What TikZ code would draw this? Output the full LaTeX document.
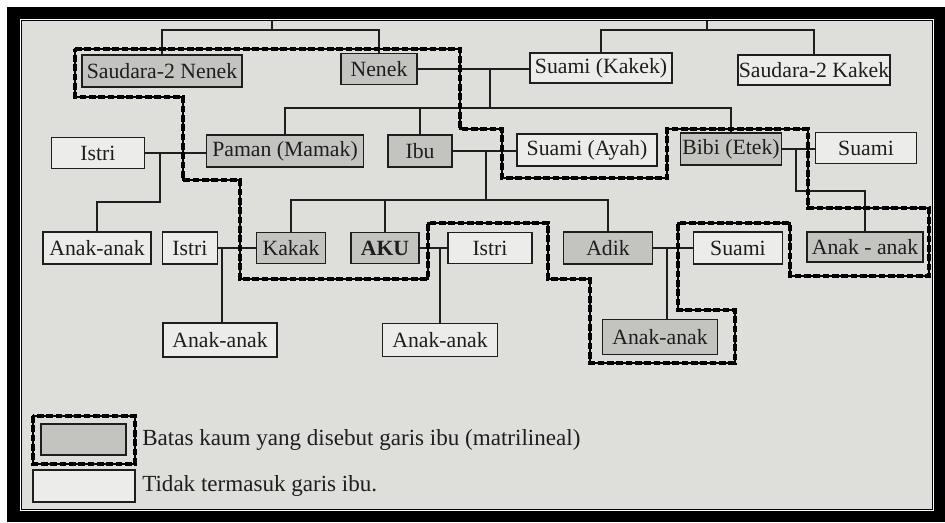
\documentclass[tikz,border=0pt]{standalone}
\usepackage{fontspec}
\setmainfont{Liberation Serif}

\definecolor{halaman}{HTML}{DEDFDB}
\definecolor{abu}{HTML}{C3C4C0}
\definecolor{putih}{HTML}{ECEDEA}
\definecolor{tinta}{HTML}{1E1E1E}

\tikzset{
  kotak/.style={draw=tinta, line width=1.3pt, inner sep=0pt, text=tinta,
    font=\fontsize{16.3}{18}\selectfont},
  ukuran/.style 2 args={minimum width=#1*0.75pt, minimum height=#2*0.75pt},
  ibukotak/.style={kotak, fill=abu},
  luarkotak/.style={kotak, fill=putih},
  keterangan/.style={text=tinta, inner sep=0pt, anchor=west,
    font=\fontsize{17.3}{19}\selectfont},
  garis/.style={draw=tinta, line width=1pt},
  batas/.style={draw=black, line width=3pt, dash pattern=on 5pt off 2pt,
    preaction={draw=black, solid, line width=1.1pt}},
}

\begin{document}
\begin{tikzpicture}[x=0.75pt, y=-0.75pt]
  \useasboundingbox (0,0) rectangle (945,522);

  % Drawing frame and page
  \fill[white] (0,0) rectangle (945,522);
  \fill[black] (7,7) rectangle (945,522);
  \draw[white, line width=1.2pt] (20.5,19.5) rectangle (933.5,510.5);
  \fill[halaman] (22,21) rectangle (932,509);

  % Drawing row of grandparents
  \node[ibukotak, ukuran={160}{32}] (sdrnenek) at (162,71) {Saudara-2 Nenek};
  \node[ibukotak, ukuran={76}{31}] (nenek) at (379,69) {Nenek};
  \node[luarkotak, ukuran={142}{30}] (kakek) at (601,68) {Suami (Kakek)};
  \node[luarkotak, ukuran={152}{30}] (sdrkakek) at (814,70) {Saudara-2 Kakek};

  % Drawing row of parents
  \node[luarkotak, ukuran={93}{31}] (istripaman) at (98,153) {Istri};
  \node[ibukotak, ukuran={157}{32}] (paman) at (285,151) {Paman (Mamak)};
  \node[ibukotak, ukuran={64}{32}] (ibu) at (420,151) {Ibu};
  \node[luarkotak, ukuran={140}{32}] (ayah) at (587,150) {Suami (Ayah)};
  \node[ibukotak, ukuran={101}{32}] (bibi) at (731,149) {Bibi (Etek)};
  \node[luarkotak, ukuran={101}{31}] (suamibibi) at (866,148) {Suami};

  % Drawing row of AKU
  \node[luarkotak, ukuran={108}{32}] (anakpaman) at (97,248) {Anak-anak};
  \node[luarkotak, ukuran={55}{32}] (istrikakak) at (190,248) {Istri};
  \node[ibukotak, ukuran={69}{31}] (kakak) at (291,248) {Kakak};
  \node[ibukotak, ukuran={68}{31}] (aku) at (385,248) {\bfseries AKU};
  \node[luarkotak, ukuran={84}{31}] (istriaku) at (490,248) {Istri};
  \node[ibukotak, ukuran={89}{32}] (adik) at (608,248) {Adik};
  \node[luarkotak, ukuran={89}{32}] (suamiadik) at (738,248) {Suami};
  \node[ibukotak, ukuran={116}{30}] (anakbibi) at (865,247) {Anak - anak};

  % Drawing row of children
  \node[luarkotak, ukuran={114}{34}] (anakkakak) at (220,340) {Anak-anak};
  \node[luarkotak, ukuran={115}{33}] (anakaku) at (440,340) {Anak-anak};
  \node[ibukotak, ukuran={115}{35}] (anakadik) at (660,337) {Anak-anak};

  % Drawing lines to great-grandparents
  \coordinate (atasnenek) at (272,30);
  \coordinate (ataskakek) at (707,30);
  \draw[garis] (sdrnenek.north) |- (atasnenek) -| (nenek.north);
  \draw[garis] (atasnenek) -- ++(0,-9);
  \draw[garis] (kakek.north) |- (ataskakek) -| (sdrkakek.north);
  \draw[garis] (ataskakek) -- ++(0,-9);

  % Drawing marriage of Nenek and children line
  \coordinate (nikahnenek) at (490,69);
  \coordinate (anaknenek) at (490,108);
  \draw[garis] (nenek.east) -- (nenek.east -| kakek.west);
  \draw[garis] (nikahnenek) -- (anaknenek);
  \draw[garis] (paman.north) -- (paman.north |- anaknenek) -| (bibi.north);
  \draw[garis] (ibu.north) -- (ibu.north |- anaknenek);

  % Drawing marriage of Paman
  \coordinate (nikahpaman) at (160,152);
  \coordinate (turunpaman) at (160,202);
  \draw[garis] (istripaman.east) -- (istripaman.east -| paman.west);
  \draw[garis] (nikahpaman) -- (turunpaman) -| (anakpaman.north);

  % Drawing marriage of Ibu and children line
  \coordinate (nikahibu) at (486,151);
  \coordinate (anakibu) at (486,200);
  \draw[garis] (ibu.east) -- (ibu.east -| ayah.west);
  \draw[garis] (nikahibu) -- (anakibu);
  \draw[garis] (kakak.north) -- (kakak.north |- anakibu) -| (adik.north);
  \draw[garis] (aku.north) -- (aku.north |- anakibu);

  % Drawing marriage of Bibi
  \coordinate (nikahbibi) at (796,149);
  \coordinate (turunbibi) at (796,191);
  \draw[garis] (bibi.east) -- (bibi.east -| suamibibi.west);
  \draw[garis] (nikahbibi) -- (turunbibi) -| (anakbibi.north);

  % Drawing marriages of Kakak, AKU and Adik
  \coordinate (nikahkakak) at (222,248);
  \coordinate (nikahaku) at (440,248);
  \coordinate (nikahadik) at (667,248);
  \draw[garis] (istrikakak.east) -- (kakak.west);
  \draw[garis] (nikahkakak) -- (nikahkakak |- anakkakak.north);
  \draw[garis] (aku.east) -- (istriaku.west);
  \draw[garis] (nikahaku) -- (nikahaku |- anakaku.north);
  \draw[garis] (adik.east) -- (suamiadik.west);
  \draw[garis] (nikahadik) -- (nikahadik |- anakadik.north);

  % Drawing boundary of garis ibu
  \draw[batas] (75,49) -- (460,49) -- (460,129) -- (502,129) -- (502,178)
    -- (667,178) -- (667,129) -- (808,129) -- (808,208) -- (929,208)
    -- (929,276) -- (790,276) -- (790,223) -- (678,223) -- (678,310)
    -- (735,310) -- (735,363) -- (590,363) -- (590,279) -- (548,279)
    -- (548,223) -- (428,223) -- (428,279) -- (240,279) -- (240,180)
    -- (183,180) -- (183,97) -- (75,97) -- cycle;

  % Drawing legend
  \draw[batas] (33,416) rectangle (135,464);
  \node[ibukotak, ukuran={85}{31}] (tandaibu) at (83.5,439.5) {};
  \node[luarkotak, ukuran={102}{32}] (tandaluar) at (84,486) {};
  \node[keterangan] (ketibu) at (142,440)
    {Batas kaum yang disebut garis ibu (matrilineal)};
  \node[keterangan] (ketluar) at (142,486)
    {Tidak termasuk garis ibu.};
\end{tikzpicture}
\end{document}
